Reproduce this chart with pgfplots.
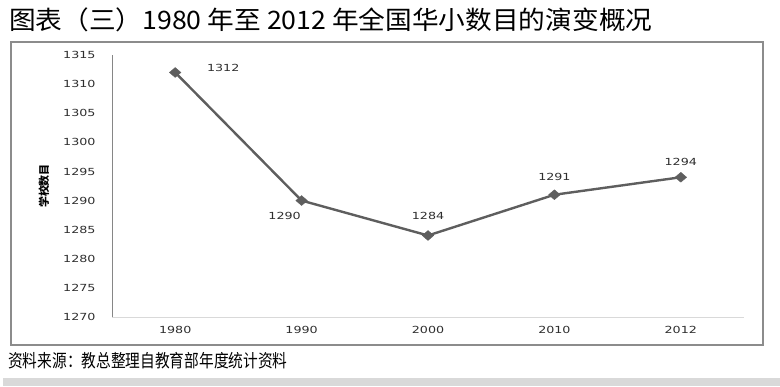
\documentclass[border=0pt]{standalone}
\usepackage{pgfplots}
\pgfplotsset{compat=1.18}
\usepackage{pgfplotstable}
\usepackage{fontspec}
\setmainfont{DejaVu Sans}
\newfontfamily\tickfont[FakeStretch=1.3]{DejaVu Sans}
\newfontfamily\cjk{Noto Sans CJK SC}
\newfontfamily\cjkfoot[FakeStretch=0.82]{Noto Sans CJK SC}
\newfontfamily\cjktitle[FakeStretch=1.05]{Noto Sans CJK SC}
\definecolor{linegray}{HTML}{5E5E5E}
\definecolor{framegray}{HTML}{8C8C8C}
\definecolor{axisgray}{HTML}{868686}
\definecolor{xaxisgray}{HTML}{D9D9D9}
\definecolor{txt}{HTML}{2E2E2E}

\pgfplotstableread{
x y dx dy
0 1312 48 5
1 1290 -17 -15
2 1284 0 20
3 1291 0 18
4 1294 0 15
}\schooldata

\begin{document}
\begin{tikzpicture}[x=1bp,y=1bp]
\path[use as bounding box] (0,0) rectangle (780,386);
% title
\node[anchor=west,inner sep=0pt,font=\cjktitle\fontsize{25.5}{28}\selectfont,text=black] at (9,366) {图表（三）1980 年至 2012 年全国华小数目的演变概况};
% frame
\draw[framegray,line width=1.3bp] (11,41) rectangle (763,344);
% footer
\node[anchor=west,inner sep=0pt,font=\cjkfoot\fontsize{18}{20}\selectfont,text=black] at (8,25) {资料来源：教总整理自教育部年度统计资料};
\fill[xaxisgray] (3,0) rectangle (780,8);
\begin{axis}[
  at={(112bp,69bp)}, anchor=south west,
  scale only axis, width=632bp, height=262bp,
  xmin=-0.5, xmax=4.5, ymin=1270, ymax=1315,
  xtick={0,1,2,3,4}, xticklabels={1980,1990,2000,2010,2012},
  ytick={1270,1275,...,1315},
  axis x line=bottom, axis y line=left,
  x axis line style={-, xaxisgray, line width=1bp},
  y axis line style={-, axisgray, line width=0.8bp},
  major tick length=0pt,
  /pgf/number format/assume math mode=true,
  /pgf/number format/1000 sep={},
  tick label style={font=\tickfont\fontsize{9.8}{11}\selectfont, text=txt},
  yticklabel style={xshift=-13bp},
  xticklabel style={yshift=-6bp},
  ylabel={学校数目},
  ylabel style={at={(axis description cs:0,0.5)}, anchor=center, rotate=0, yshift=68bp, font=\cjk\bfseries\fontsize{11}{12}\selectfont, text=black},
  clip=false,
]
\addplot[linegray, line width=2.4bp, mark=diamond*, mark size=5.5bp, mark options={fill=linegray, line width=0.4bp, xscale=1.4, yscale=0.9},
  nodes near coords, point meta=explicit,
  visualization depends on={\thisrow{dx} \as \ddx},
  visualization depends on={\thisrow{dy} \as \ddy},
  every node near coord/.style={anchor=center, xshift=\ddx bp, yshift=\ddy bp, font=\tickfont\fontsize{9.8}{11}\selectfont, text=txt},
  nodes near coords={\pgfmathprintnumber[1000 sep={},assume math mode=true]{\pgfplotspointmeta}},
] table[x=x, y=y, meta=y] {\schooldata};
\end{axis}
\end{tikzpicture}
\end{document}
